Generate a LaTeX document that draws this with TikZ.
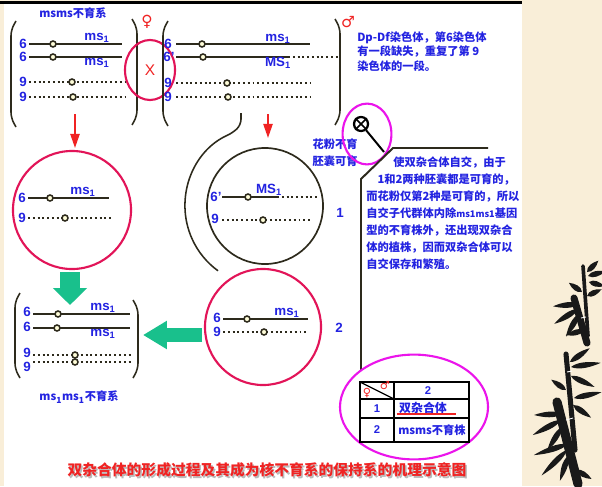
\documentclass[tikz,border=0pt]{standalone}
\usepackage{fontspec}
\setmainfont{Liberation Sans}
\newfontfamily\cjk{Noto Sans CJK SC}
\newfontfamily\sym{DejaVu Sans}
\usepackage{xcolor}
\usepackage{tikz}
\usetikzlibrary{shapes,arrows.meta,positioning,calc}

\definecolor{txtblue}{RGB}{35,35,225}
\definecolor{crim}{RGB}{226,20,88}
\definecolor{magen}{RGB}{235,20,235}
\definecolor{arrred}{RGB}{240,35,35}
\definecolor{arrgreen}{RGB}{25,192,140}
\definecolor{chrom}{RGB}{45,42,28}
\definecolor{paper}{RGB}{249,238,216}

% one chromosome: y, from x, to x, centromere x, line style
\newcommand\chromline[5]{%
  \draw[#5] (#2,#1) -- (#3,#1);
  \draw[cen] (#4,#1) circle (3);}
% brackets round a chromosome set: spine x, top y, bottom y
\newcommand\lbrak[3]{\draw[brak] (#1+5,#2) -- (#1,#2+9) -- (#1,#3-9) -- (#1+5,#3);}
\newcommand\rbrak[3]{\draw[brak] (#1-5,#2) -- (#1,#2+9) -- (#1,#3-9) -- (#1-5,#3);}
% bamboo leaf: base x, base y, angle, length
\newcommand\bleaf[4]{\fill[bamboo, shift={(#1,#2)}, rotate=#3]
  (0,0) .. controls (0.25*#4,4.5) and (0.65*#4,3) .. (#4,0)
        .. controls (0.65*#4,-3) and (0.25*#4,-4.5) .. (0,0);}

\begin{document}
\begin{tikzpicture}[
    x=0.025cm, y=-0.025cm,
    lab/.style={font=\bfseries\fontsize{9.5}{10}\selectfont, text=txtblue, inner sep=0pt},
    cjkt/.style={font=\cjk\bfseries\fontsize{8}{10}\selectfont, text=txtblue, inner sep=0pt},
    solidc/.style={draw=chrom, line width=1.5pt},
    dotc/.style={draw=chrom, line width=1pt, dash pattern=on 1.4pt off 2pt},
    cen/.style={draw=chrom, line width=1.1pt, fill=white!85!yellow},
    brak/.style={draw=chrom, line width=1.1pt, rounded corners=4pt},
    ring/.style={circle, draw=crim, line width=1.5pt, inner sep=0pt, minimum size=2.95cm},
    oval/.style={ellipse, draw=magen, line width=1.5pt, inner sep=0pt},
    redarr/.style={draw=arrred, line width=1.4pt, -{Triangle[width=6.5pt,length=10pt]}},
    fatarr/.style={draw=arrgreen},
    sex/.style={font=\sym\fontsize{11}{11}\selectfont, text=arrred, inner sep=0pt},
    bamboo/.style={fill=black!90},
    stalk/.style={draw=black!90, line cap=round}
]
    \useasboundingbox (0,0) rectangle (602,486);
    \fill[paper] (0,0) rectangle (602,486);
    \fill[white] (4,4) rectangle (522,486);
    \fill[black] (0,1) rectangle (522,4.5);

    % msms sterile line
    \node[cjkt] (msmshead) at (73,13) {msms不育系};
    \lbrak{11}{21}{127}
    \rbrak{137}{19}{125}
    \chromline{44}{29}{122}{53}{solidc}
    \chromline{57}{29}{122}{53}{solidc}
    \chromline{82}{29}{125}{72}{dotc}
    \chromline{97}{29}{125}{73}{dotc}
    \node[lab] (g1n1) at (23,44) {6};
    \node[lab] (g1n2) at (23,57) {6};
    \node[lab] (g1n3) at (23,82) {9};
    \node[lab] (g1n4) at (23,97) {9};
    \node[lab] (g1m1) at (97,38) {ms\textsubscript{1}};
    \node[lab] (g1m2) at (97,63) {ms\textsubscript{1}};

    \node[sex] (fem) at (147,22) {♀};
    \node[ellipse, draw=crim, line width=1.5pt, minimum width=1.25cm, minimum height=1.5cm,
          text=arrred, font=\fontsize{11}{11}\selectfont] (cross) at (150,70) {X};

    % Dp-Df line
    \lbrak{163}{21}{126}
    \rbrak{340}{19}{125}
    \chromline{44}{176}{310}{202}{solidc}
    \chromline{57}{176}{288}{203}{solidc}
    \draw[dotc] (288,57) -- (340,57);
    \chromline{83}{176}{310}{227}{dotc}
    \chromline{97}{176}{310}{228}{dotc}
    \node[lab] (g2n1) at (168,44) {6};
    \node[lab] (g2n2) at (169,57) {6'};
    \node[lab] (g2n3) at (168,83) {9};
    \node[lab] (g2n4) at (168,97) {9};
    \node[lab] (g2m1) at (278,39) {ms\textsubscript{1}};
    \node[lab] (g2m2) at (278,63) {MS\textsubscript{1}};
    \node[sex] (male) at (348,22) {♂};
    \node[cjkt, align=left, anchor=north west, font=\cjk\bfseries\fontsize{8}{10.5}\selectfont] (dpdf) at (357,31)
        {Dp-Df染色体，第6染色体\\有一段缺失，重复了第 9\\染色体的一段。};

    % gametes
    \node[ring] (c1) at (72,210) {};
    \chromline{198}{28}{109}{50}{solidc}
    \chromline{218}{28}{113}{65}{dotc}
    \node[lab] (c1n1) at (22,198) {6};
    \node[lab] (c1n2) at (22,218) {9};
    \node[lab] (c1m1) at (83,192) {ms\textsubscript{1}};

    \node[ring, draw=chrom, line width=1.2pt, minimum size=2.9cm] (c2) at (265,206) {};
    \chromline{197}{222}{277}{248}{solidc}
    \draw[dotc] (277,197) -- (318,197);
    \chromline{220}{222}{312}{263}{dotc}
    \node[lab] (c2n1) at (216,197) {6'};
    \node[lab] (c2n2) at (215,219) {9};
    \node[lab] (c2m1) at (269,190) {MS\textsubscript{1}};
    \node[lab] (one) at (340,213) {1};
    \draw[brak] (241,113) -- (241,125) -- (232.5,133) arc[start angle=246, end angle=126, radius=80];

    \node[ring, minimum size=2.9cm] (c3) at (263,327) {};
    \chromline{319}{223}{308}{247}{solidc}
    \chromline{332}{223}{308}{264}{dotc}
    \node[lab] (c3n1) at (217,318) {6};
    \node[lab] (c3n2) at (217,332) {9};
    \node[lab] (c3m1) at (287,313) {ms\textsubscript{1}};
    \node[lab] (two) at (339,328) {2};

    \node[cjkt, align=center, font=\cjk\bfseries\fontsize{8}{12}\selectfont] (fert) at (335,153) {花粉不育\\胚囊可育};

    % maintained sterile line
    \lbrak{15}{293}{378}
    \rbrak{138}{300}{378}
    \chromline{314}{33}{130}{58}{solidc}
    \chromline{328}{33}{130}{57}{solidc}
    \chromline{355}{33}{132}{75}{dotc}
    \chromline{362}{33}{132}{75}{dotc}
    \node[lab] (g3n1) at (27,312) {6};
    \node[lab] (g3n2) at (27,327) {6};
    \node[lab] (g3n3) at (27,353) {9};
    \node[lab] (g3n4) at (27,367) {9};
    \node[lab] (g3m1) at (103,308) {ms\textsubscript{1}};
    \node[lab] (g3m2) at (103,334) {ms\textsubscript{1}};
    \node[cjkt] (g3name) at (79,397) {ms\textsubscript{1}ms\textsubscript{1}不育系};

    % arrows
    \coordinate (a1s) at (75,114);
    \coordinate (a1e) at (75,148);
    \coordinate (a2s) at (268,114);
    \coordinate (a2e) at (268,138);
    \draw[redarr] (a1s) -- (a1e);
    \draw[redarr] (a2s) -- (a2e);
    \coordinate (b1s) at (70,272);
    \coordinate (b1e) at (70,305);
    \coordinate (b2s) at (202,335);
    \coordinate (b2e) at (143,335);
    \draw[fatarr, line width=14pt, -{Triangle[width=23.5pt,length=12pt]}] (b1s) -- (b1e);
    \draw[fatarr, line width=10pt, -{Triangle[width=19pt,length=17pt]}] (b2s) -- (b2e);

    % selfing
    \node[oval, minimum width=1.22cm, minimum height=1.52cm] (selfring) at (367,134) {};
    \node[circle, draw=black, line width=1.6pt, minimum size=0.35cm, inner sep=0pt] (selfsym) at (361,124) {};
    \draw[black, line width=1.2pt] (selfsym.north west) -- (selfsym.south east);
    \draw[black, line width=1.2pt] (selfsym.north east) -- (selfsym.south west);
    \coordinate (stalkend) at (384,152);
    \draw[black, line width=1.4pt] (selfsym) -- (stalkend);
    \draw[brak, rounded corners=0pt, line width=1.4pt] (488,148) -- (393,148) -- (361,179) -- (361,370);
    \node[cjkt, align=left, anchor=north west, font=\cjk\bfseries\fontsize{8}{12.1}\selectfont] (note) at (366,156)
        {\hspace*{2.4em}使双杂合体自交，由于\\
         \hspace*{1em}1和2两种胚囊都是可育的，\\
         而花粉仅第2种是可育的，所以\\
         自交子代群体内除{\fontsize{6.5}{8}\selectfont ms1ms1}基因\\
         型的不育株外，还出现双杂合\\
         体的植株，因而双杂合体可以\\
         自交保存和繁殖。};

    % offspring table
    \node[oval, minimum width=3.7cm, minimum height=2.62cm] (tabring) at (414,407) {};
    \draw[black, line width=1pt] (360,382) rectangle (469,442);
    \draw[black, line width=1.2pt] (394,382) -- (394,442);
    \draw[black, line width=1pt] (360,399) -- (469,399);
    \draw[black, line width=1pt] (360,418) -- (469,418);
    \draw[black, line width=0.8pt] (360,382) -- (394,399);
    \node[sex, font=\sym\fontsize{8}{8}\selectfont] (tfem) at (367,393) {♀};
    \node[sex, font=\sym\fontsize{8}{8}\selectfont] (tmale) at (385,386) {♂};
    \node[lab, font=\bfseries\fontsize{8}{9}\selectfont] (th2) at (428,391) {2};
    \node[lab, font=\bfseries\fontsize{8}{9}\selectfont] (tr1) at (377,409) {1};
    \node[cjkt, font=\cjk\bfseries\fontsize{8.5}{10}\selectfont] (tr1b) at (423,408) {双杂合体};
    \draw[arrred, line width=1pt] ([xshift=-0.05cm]tr1b.south west) -- ([xshift=0.22cm]tr1b.south east);
    \node[lab, font=\bfseries\fontsize{8}{9}\selectfont] (tr2) at (377,430) {2};
    \node[cjkt] (tr2b) at (432,430) {msms不育株};

    % caption
    \node[font=\cjk\bfseries\fontsize{10.5}{12}\selectfont, text=black!45, opacity=0.6] (capshadow) at (268.5,471.5)
        {双杂合体的形成过程及其成为核不育系的保持系的机理示意图};
    \node[font=\cjk\bfseries\fontsize{10.5}{12}\selectfont, text=arrred] (caption) at (267,470)
        {双杂合体的形成过程及其成为核不育系的保持系的机理示意图};

    % bamboo, upper clump
    \draw[stalk, line width=2.6pt] (583,266) -- (588,336);
    \draw[stalk, line width=5pt] (574,298) -- (587,343);
    \draw[white, line width=0.6pt] (581,318) -- (586,317);
    \bleaf{587}{272}{45}{16}
    \bleaf{588}{276}{15}{18}
    \bleaf{589}{282}{-15}{16}
    \bleaf{587}{296}{25}{16}
    \bleaf{582}{292}{145}{16}
    \bleaf{579}{304}{185}{26}
    \bleaf{578}{309}{212}{28}
    \bleaf{579}{314}{240}{26}
    \bleaf{585}{330}{195}{20}
    % bamboo, lower clump
    \draw[stalk, line width=3.6pt] (566,354) -- (575,450);
    \draw[stalk, line width=6.5pt] (557,402) -- (578,484);
    \draw[white, line width=0.6pt] (566,420) -- (573,418);
    \draw[white, line width=0.7pt] (567,372) -- (572,371);
    \bleaf{570}{362}{35}{24}
    \bleaf{571}{367}{8}{30}
    \bleaf{571}{376}{-25}{26}
    \bleaf{574}{398}{12}{28}
    \bleaf{573}{405}{-35}{22}
    \bleaf{566}{390}{145}{18}
    \bleaf{562}{414}{182}{28}
    \bleaf{561}{420}{208}{32}
    \bleaf{562}{427}{238}{28}
    \bleaf{568}{444}{198}{36}
    \bleaf{567}{450}{225}{36}
    \bleaf{568}{456}{252}{26}
    \bleaf{576}{470}{-30}{18}
\end{tikzpicture}
\end{document}
